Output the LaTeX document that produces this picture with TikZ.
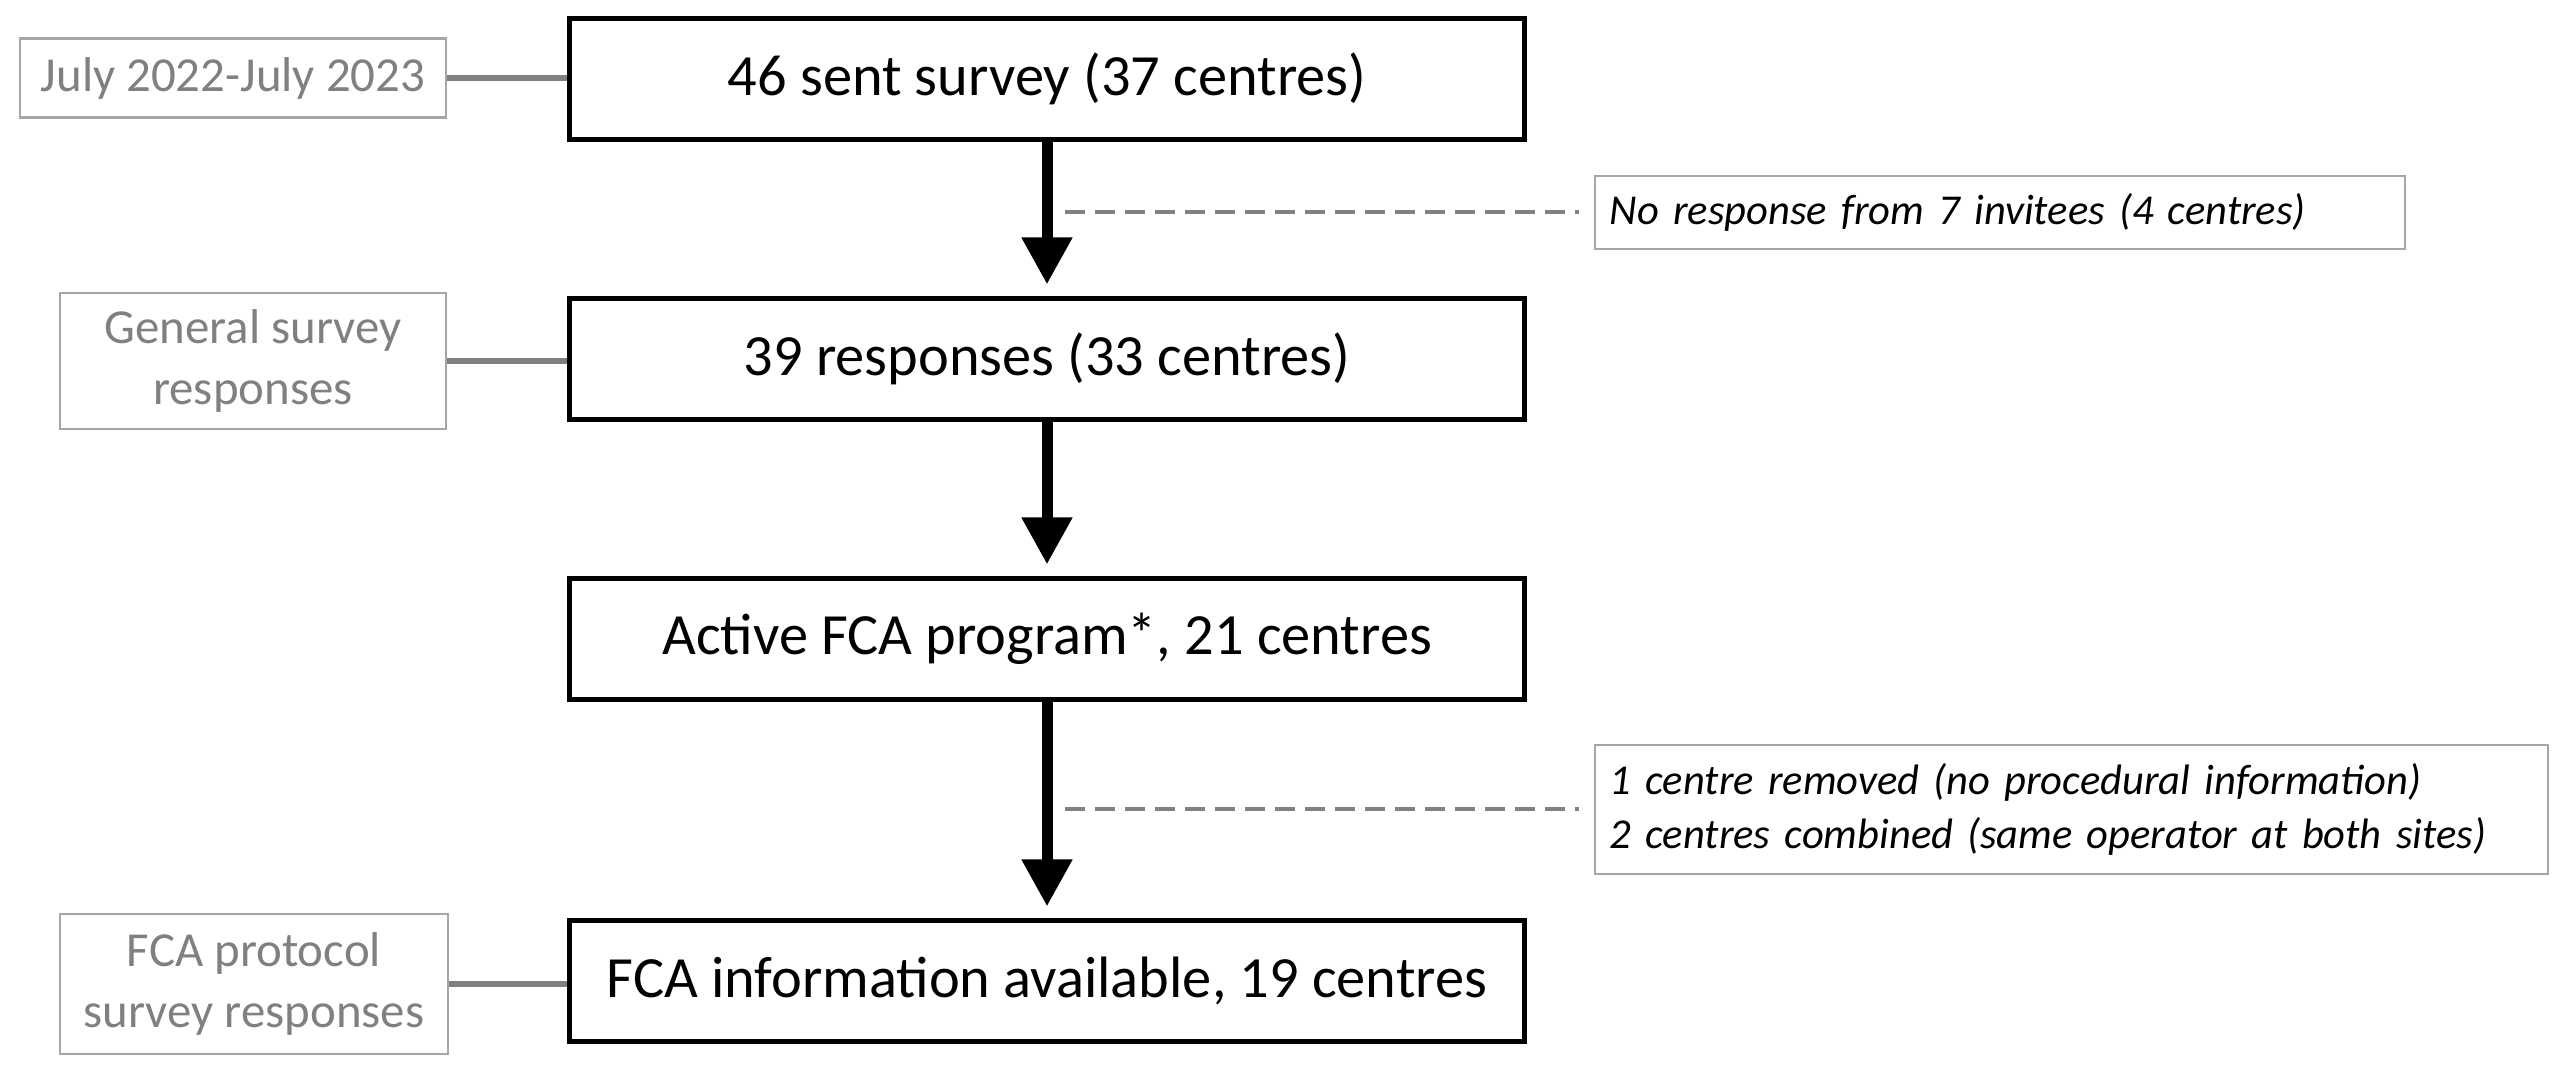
\documentclass[tikz,border=0pt]{standalone}
\usepackage{fontspec}
\setmainfont{Carlito}
\usetikzlibrary{arrows.meta}
\definecolor{txtgray}{HTML}{808080}
\definecolor{boxgray}{HTML}{A6A6A6}
\definecolor{linegray}{HTML}{808080}
\begin{document}
\begin{tikzpicture}[x=0.01cm,y=-0.01cm,
  mainbox/.style={draw=black, line width=0.05cm, minimum width=9.55cm, minimum height=1.2cm, inner sep=0pt, font=\fontsize{16.6}{19.5}\selectfont},
  sidebox/.style={draw=boxgray, line width=0.022cm, inner sep=0pt, text=txtgray, align=center, font=\fontsize{13.9}{17.2}\selectfont},
  notebox/.style={draw=boxgray, line width=0.022cm, inner sep=0pt, align=left, font=\fontsize{12.1}{15.2}\selectfont\itshape},
  flow/.style={line width=0.11cm, -{Triangle[width=0.48cm,length=0.47cm]}, shorten >=0.12cm},
  tie/.style={draw=linegray, line width=0.06cm},
  dashline/.style={draw=linegray, line width=0.04cm, dash pattern=on 0.2cm off 0.1cm, shorten <=0.18cm, shorten >=0.15cm}]
\useasboundingbox (0,0) rectangle (2560,1074);

\node[mainbox] (m1) at (1047,79) {46 sent survey (37 centres)};
\node[mainbox] (m2) at (1047,359) {39 responses (33 centres)};
\node[mainbox] (m3) at (1047,639) {Active FCA program*, 21 centres};
\node[mainbox] (m4) at (1047,981) {FCA information available, 19 centres};

\node[sidebox, minimum width=4.26cm, minimum height=0.79cm] (s1) at (233,78) {July 2022-July 2023};
\node[sidebox, minimum width=3.86cm, minimum height=1.36cm] (s2) at (253,361) {General survey\\responses};
\node[sidebox, minimum width=3.88cm, minimum height=1.4cm] (s3) at (254,984) {FCA protocol\\survey responses};

\node[notebox, minimum width=8.1cm, minimum height=0.73cm, text width=7.8cm] (r1) at (2000,212.5) {No response from 7 invitees (4 centres)};
\node[notebox, minimum width=9.53cm, minimum height=1.29cm, text width=9.23cm] (r2) at (2071.5,809.5) {1 centre removed (no procedural information)\\2 centres combined (same operator at both sites)};

\draw[flow] (m1.south) -- (m2.north);
\draw[flow] (m2.south) -- (m3.north);
\draw[flow] (m3.south) -- (m4.north);

\draw[tie] (s1.east) -- (s1.east -| m1.west);
\draw[tie] (s2.east) -- (s2.east -| m2.west);
\draw[tie] (s3.east) -- (s3.east -| m4.west);

\draw[dashline] (m1.south |- r1.west) -- (r1.west);
\draw[dashline] (m3.south |- r2.west) -- (r2.west);
\end{tikzpicture}
\end{document}
